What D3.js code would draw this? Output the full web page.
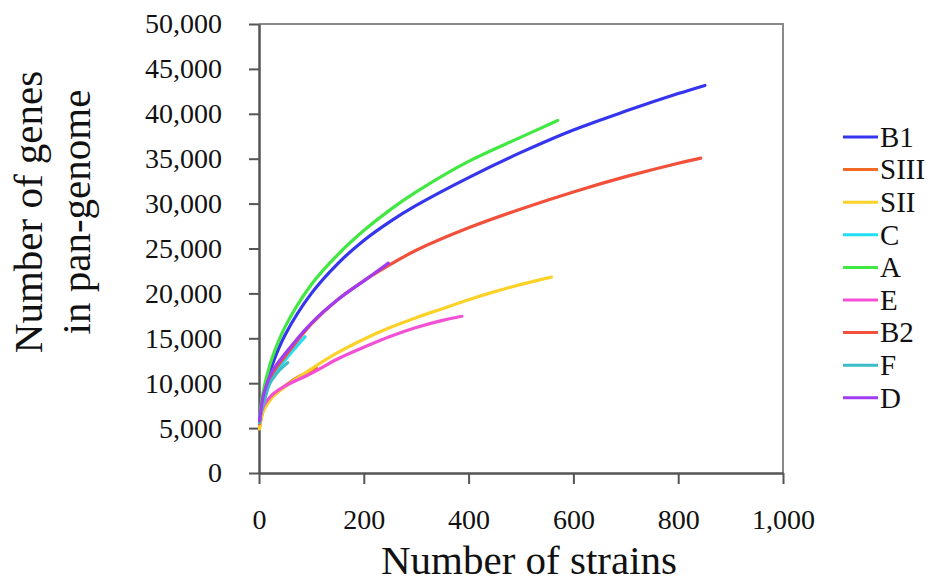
<!DOCTYPE html>
<html>
<head>
<meta charset="utf-8">
<script src="https://cdn.jsdelivr.net/npm/d3@7"></script>
<style>
  body { margin: 0; background: #fff; }
  svg text { font-family: "Liberation Serif", "DejaVu Serif", serif; fill: #111; }
</style>
</head>
<body>
<div id="chart"></div>
<script>
// Pan-genome accumulation curves, one per group
const groups = ["B1", "SIII", "SII", "C", "A", "E", "B2", "F", "D"];

const colors = {
  B1: "#3535f0",
  SIII: "#f26a24",
  SII: "#fcd22a",
  C: "#22def6",
  A: "#42e842",
  E: "#f450d6",
  B2: "#f2503a",
  F: "#3cbcc8",
  D: "#a23cf0"
};

const SERIF = '"Liberation Serif", "DejaVu Serif", serif';

// [strains, genes]
const B1 = [[1, 5800], [5, 7600], [10, 9000], [25, 12000], [50, 15400], [100, 20000], [150, 23300], [200, 25900], [250, 28000], [300, 29800], [400, 32900], [500, 35700], [600, 38200], [700, 40300], [800, 42250], [851, 43160]];
const SIII = [[1, 5000], [5, 6300], [10, 7200], [25, 8500], [50, 9700], [75, 10700], [100, 11350], [110, 11650]];
const SII = [[1, 4900], [5, 6300], [10, 7100], [25, 8400], [50, 9600], [100, 11600], [150, 13400], [200, 14900], [250, 16200], [300, 17300], [350, 18300], [400, 19300], [450, 20200], [500, 21000], [558, 21810]];
const C = [[1, 5900], [5, 7500], [10, 8700], [25, 10700], [55, 12960], [88, 15190]];
const A = [[1, 5900], [5, 8000], [10, 9600], [25, 12800], [50, 16300], [100, 21000], [150, 24300], [200, 27000], [250, 29300], [300, 31300], [400, 34700], [500, 37400], [570, 39260]];
const E = [[1, 5800], [5, 6900], [10, 7600], [25, 8700], [50, 9700], [100, 11100], [150, 12700], [200, 14000], [250, 15200], [300, 16200], [350, 17000], [387, 17450]];
const B2 = [[1, 5500], [5, 7300], [10, 8700], [25, 11000], [50, 13000], [100, 16600], [150, 19300], [200, 21400], [250, 23200], [300, 24800], [400, 27300], [500, 29400], [600, 31300], [700, 33000], [800, 34500], [843, 35070]];
const F = [[1, 5600], [5, 7000], [10, 8000], [20, 9900], [30, 10800], [40, 11500], [55, 12290]];
const D = [[1, 5800], [5, 7600], [10, 9000], [25, 11300], [50, 13300], [100, 16700], [150, 19300], [200, 21400], [247, 23370]];

const seriesData = { B1, SIII, SII, C, A, E, B2, F, D };

const xTicks = [0, 200, 400, 600, 800, 1000];
const yTicks = [0, 5000, 10000, 15000, 20000, 25000, 30000, 35000, 40000, 45000, 50000];

const width = 933, height = 583;
const margin = { left: 259, right: 150, top: 24, bottom: 110 };

const svg = d3.select("#chart").append("svg")
  .attr("width", width)
  .attr("height", height);

const x = d3.scaleLinear().domain([0, 1000]).range([margin.left, width - margin.right]);
const y = d3.scaleLinear().domain([0, 50000]).range([height - margin.bottom, margin.top]);

const fmt = d3.format(",");

// plot frame (top + right)
svg.append("path")
  .attr("d", `M${x(0)},${y(50000)}H${x(1000)}V${y(0)}`)
  .attr("fill", "none")
  .attr("stroke", "#8a8a8a")
  .attr("stroke-width", 2);

// x axis
const xAxis = svg.append("g")
  .attr("transform", `translate(0,${y(0)})`)
  .call(d3.axisBottom(x).tickValues(xTicks).tickFormat(fmt).tickSize(11).tickPadding(25).tickSizeOuter(0));
xAxis.attr("font-family", SERIF);
xAxis.select(".domain").attr("stroke", "#555").attr("stroke-width", 2.5);
xAxis.selectAll(".tick line").attr("stroke", "#555").attr("stroke-width", 2);
xAxis.selectAll("text").attr("font-size", 28).attr("fill", "#111");

// y axis
const yAxis = svg.append("g")
  .attr("transform", `translate(${x(0)},0)`)
  .call(d3.axisLeft(y).tickValues(yTicks).tickFormat(fmt).tickSize(10).tickPadding(27).tickSizeOuter(0));
yAxis.attr("font-family", SERIF);
yAxis.select(".domain").attr("stroke", "#555").attr("stroke-width", 2.5);
yAxis.selectAll(".tick line").attr("stroke", "#555").attr("stroke-width", 2);
yAxis.selectAll("text").attr("font-size", 28).attr("fill", "#111");

// curves
const line = d3.line()
  .x(d => x(d[0]))
  .y(d => y(d[1]))
  .curve(d3.curveCatmullRom.alpha(0.5));

svg.append("g")
  .selectAll("path")
  .data(groups)
  .join("path")
  .attr("d", g => line(seriesData[g]))
  .attr("fill", "none")
  .attr("stroke", g => colors[g])
  .attr("stroke-width", 3.2)
  .attr("stroke-linecap", "round");

// legend
const legend = svg.append("g")
  .selectAll("g")
  .data(groups)
  .join("g")
  .attr("transform", (g, i) => `translate(843,${137 + i * 32.6})`);

legend.append("line")
  .attr("x1", 0).attr("x2", 35)
  .attr("stroke", g => colors[g])
  .attr("stroke-width", 3);

legend.append("text")
  .attr("x", 37)
  .attr("dy", "0.34em")
  .attr("font-size", 29)
  .text(g => g);

// axis titles
svg.append("text")
  .attr("x", 529)
  .attr("y", 574)
  .attr("text-anchor", "middle")
  .attr("font-size", 41)
  .text("Number of strains");

const yTitle = svg.append("text")
  .attr("transform", "translate(0,212) rotate(-90)")
  .attr("text-anchor", "middle")
  .attr("font-size", 41);
yTitle.append("tspan").attr("x", 0).attr("y", 42).text("Number of genes");
yTitle.append("tspan").attr("x", 0).attr("y", 90).text("in pan-genome");
</script>
</body>
</html>
